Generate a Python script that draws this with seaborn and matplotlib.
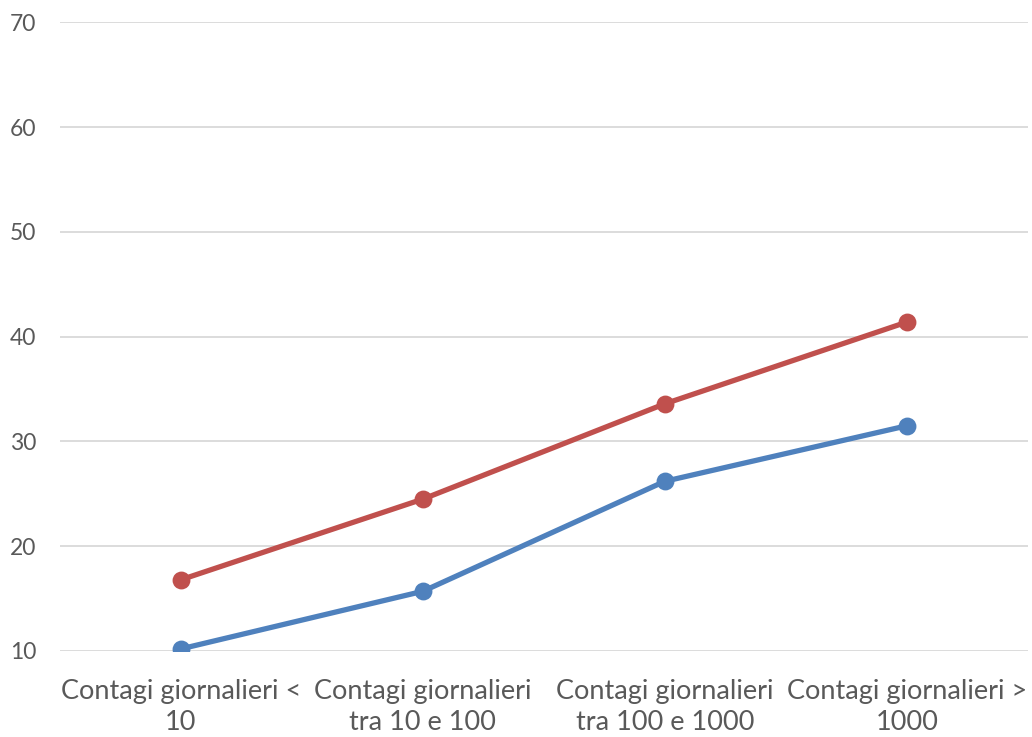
import matplotlib.pyplot as plt
import seaborn as sns

sns.set_theme(style="white")
plt.rcParams["font.family"] = ["Lato", "DejaVu Sans"]

# dati
categorie = ["Contagi giornalieri <\n10", "Contagi giornalieri\ntra 10 e 100",
             "Contagi giornalieri\ntra 100 e 1000", "Contagi giornalieri >\n1000"]
serie_rossa = [16.8, 24.5, 33.6, 41.4]
serie_blu = [10.2, 15.7, 26.2, 31.5]
tick_y = [10, 20, 30, 40, 50, 60, 70]

fig = plt.figure(figsize=(10.32, 7.37), dpi=100)
ax = fig.add_axes([0.058, 0.1167, 0.938, 0.8528])

sns.pointplot(x=categorie, y=serie_rossa, color="#C0504D", linewidth=3.8,
              markersize=10, ax=ax)
sns.pointplot(x=categorie, y=serie_blu, color="#4F81BD", linewidth=3.8,
              markersize=10, ax=ax)

ax.set_ylim(10, 70)
ax.set_yticks(tick_y)
ax.set_xlim(-0.5, 3.5)
ax.yaxis.grid(True, color="#D9D9D9", linewidth=1.3)
ax.set_axisbelow(True)
for s in ax.spines.values():
    s.set_visible(False)
ax.tick_params(axis="y", colors="#595959", labelsize=16.5, length=0, pad=17)
ax.tick_params(axis="x", colors="#595959", labelsize=19.5, length=0, pad=20)
for t in ax.get_xticklabels():
    t.set_linespacing(1.3)

fig.savefig("out.png", dpi=100)
